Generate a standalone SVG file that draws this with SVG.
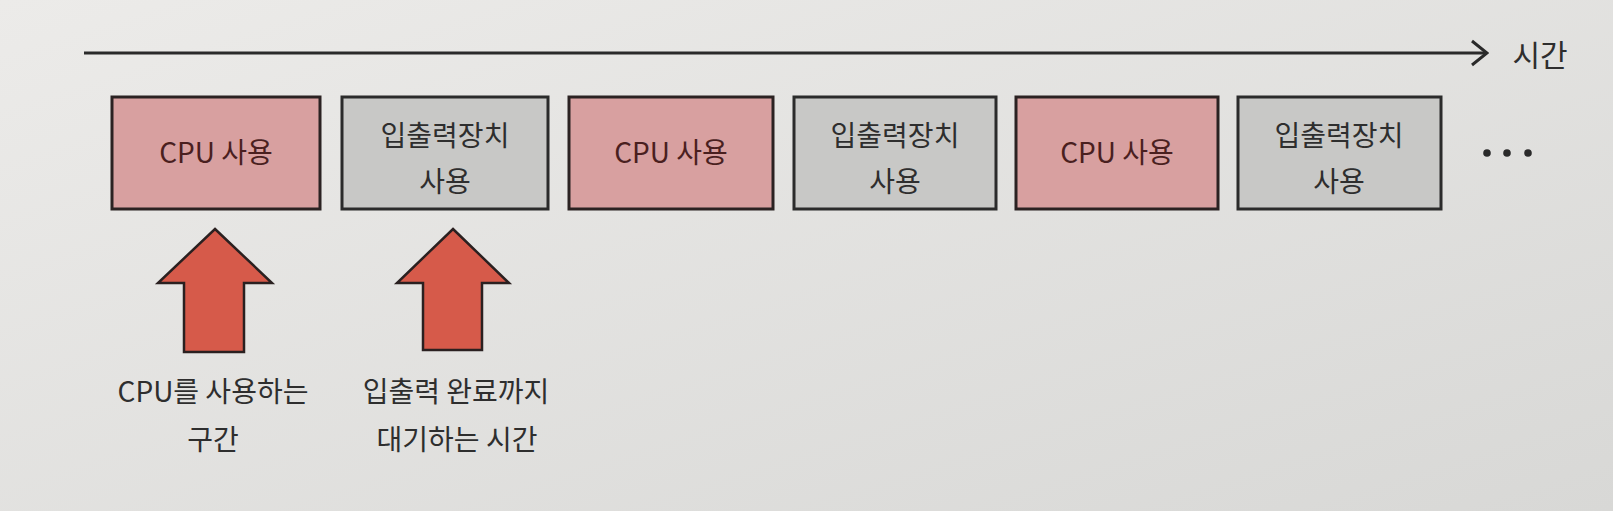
<svg xmlns="http://www.w3.org/2000/svg" width="1613" height="511" viewBox="0 0 1613 511">
  <defs>
    <linearGradient id="paper" x1="0" y1="0" x2="1" y2="1">
      <stop offset="0" stop-color="#ecebe9"/>
      <stop offset="1" stop-color="#d8d8d6"/>
    </linearGradient>
    <marker id="chev" viewBox="0 0 20 30" refX="18" refY="15" markerWidth="20" markerHeight="30" markerUnits="userSpaceOnUse" orient="auto">
      <path d="M3,3 L18,15 L3,27" fill="none" stroke="#2a2a2a" stroke-width="3"/>
    </marker>
  </defs>
  <style>
    .cpu rect { fill: #d8a0a0; stroke: #2b2222; stroke-width: 3; }
    .io rect { fill: #c8c8c6; stroke: #2b2b2b; stroke-width: 3; }
    .cpu text { fill: #4a1f1f; }
    .io text { fill: #2e2e2e; }
    text { font-family: "Noto Sans CJK KR", "Noto Sans", sans-serif; text-anchor: middle; }
    .bt { font-size: 28px; }
    .lbl { font-size: 28px; fill: #2e2e2e; }
    .tl { font-size: 30px; fill: #2e2e2e; }
    .up { fill: #d65a4a; stroke: #2a2020; stroke-width: 2.5; stroke-linejoin: miter; }
    .dot { fill: #2a2a2a; }
  </style>
  <rect x="0" y="0" width="1613" height="511" fill="url(#paper)"/>

  <g id="connectors">
    <line x1="84" y1="53" x2="1487" y2="53" stroke="#2a2a2a" stroke-width="3" marker-end="url(#chev)"/>
    <polygon class="up" points="215,229 272,283 244,283 244,352 184,352 184,283 158,283"/>
    <polygon class="up" points="453,229 509,283 482,283 482,350 423,350 423,283 397,283"/>
  </g>

  <g id="time-label">
    <text class="tl" x="1540" y="66">시간</text>
  </g>

  <g id="box1" class="cpu">
    <rect x="112" y="97" width="208" height="112"/>
    <text class="bt" x="216" y="163">CPU 사용</text>
  </g>
  <g id="box2" class="io">
    <rect x="342" y="97" width="206" height="112"/>
    <text class="bt" x="445" y="146">입출력장치</text>
    <text class="bt" x="445" y="192">사용</text>
  </g>
  <g id="box3" class="cpu">
    <rect x="569" y="97" width="204" height="112"/>
    <text class="bt" x="671" y="163">CPU 사용</text>
  </g>
  <g id="box4" class="io">
    <rect x="794" y="97" width="202" height="112"/>
    <text class="bt" x="895" y="146">입출력장치</text>
    <text class="bt" x="895" y="192">사용</text>
  </g>
  <g id="box5" class="cpu">
    <rect x="1016" y="97" width="202" height="112"/>
    <text class="bt" x="1117" y="163">CPU 사용</text>
  </g>
  <g id="box6" class="io">
    <rect x="1238" y="97" width="203" height="112"/>
    <text class="bt" x="1339" y="146">입출력장치</text>
    <text class="bt" x="1339" y="192">사용</text>
  </g>

  <g id="ellipsis">
    <circle class="dot" cx="1487" cy="153" r="3.8"/>
    <circle class="dot" cx="1507" cy="153" r="3.8"/>
    <circle class="dot" cx="1528" cy="153" r="3.8"/>
  </g>

  <g id="label-cpu">
    <text class="lbl" x="213" y="402">CPU를 사용하는</text>
    <text class="lbl" x="213" y="450">구간</text>
  </g>
  <g id="label-io">
    <text class="lbl" x="456" y="402">입출력 완료까지</text>
    <text class="lbl" x="457" y="450">대기하는 시간</text>
  </g>
</svg>
